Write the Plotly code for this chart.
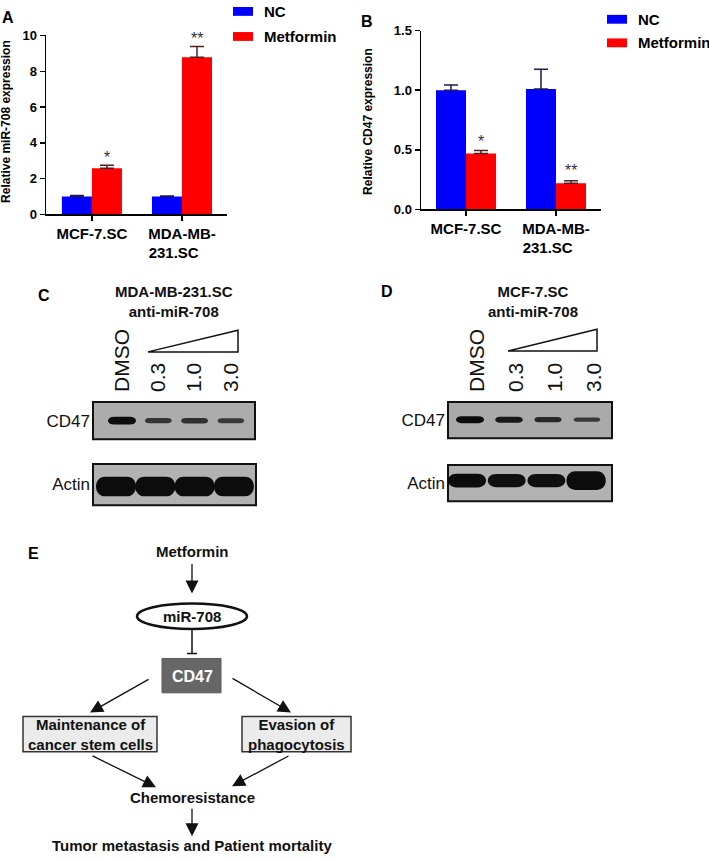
import plotly.graph_objects as go

W, H = 709, 861
FONT = "Liberation Sans, Arial, Helvetica, sans-serif"


def px(x):
    return x / W


def py(y):
    return 1 - y / H


# ---------------- data ----------------
groups = ["NC", "Metformin"]
cell_lines = ["MCF-7.SC", "MDA-MB-231.SC"]
cell_tick_text = ["MCF-7.SC", "MDA-MB-<br>231.SC&nbsp;&nbsp;&nbsp;&nbsp;"]

mir708_nc = [1.0, 1.0]
mir708_nc_err = [0.05, 0.03]
mir708_met = [2.58, 8.79]
mir708_met_err = [0.17, 0.6]
mir708_sig = ["*", "**"]

cd47_nc = [1.0, 1.01]
cd47_nc_err = [0.044, 0.165]
cd47_met = [0.47, 0.22]
cd47_met_err = [0.025, 0.02]
cd47_sig = ["*", "**"]

a_ticks = [0, 2, 4, 6, 8, 10]
b_ticks = [0.0, 0.5, 1.0, 1.5]

lanes = ["DMSO", "0.3", "1.0", "3.0"]
blot_c_cd47 = [1.0, 0.55, 0.6, 0.5]
blot_c_actin = [1.0, 1.0, 1.0, 1.0]
blot_d_cd47 = [1.0, 0.85, 0.7, 0.5]
blot_d_actin = [1.0, 0.95, 0.95, 1.35]

diagram_top = "Metformin"
diagram_mir = "miR-708"
diagram_target = "CD47"
diagram_left = "Maintenance of<br>cancer stem cells"
diagram_right = "Evasion of<br>phagocytosis"
diagram_mid = "Chemoresistance"
diagram_bottom = "Tumor metastasis and Patient mortality"

BLUE = "#0000ff"
RED = "#ff0000"

fig = go.Figure()
shapes = []
annos = []


# ---------------- bar panels ----------------
def bar_panel(xa, ya, nc, nce, met, mete, sig, star_shift):
    fig.add_trace(go.Bar(
        x=[0, 1], y=nc, name=groups[0], offsetgroup="nc",
        marker=dict(color=BLUE, line=dict(width=0)),
        error_y=dict(type="data", symmetric=False, array=nce, arrayminus=[0, 0],
                     color="#1a1a50", thickness=1.5, width=7),
        xaxis=xa, yaxis=ya, showlegend=False, hoverinfo="skip"))
    fig.add_trace(go.Bar(
        x=[0, 1], y=met, name=groups[1], offsetgroup="met",
        marker=dict(color=RED, line=dict(width=0)),
        error_y=dict(type="data", symmetric=False, array=mete, arrayminus=[0, 0],
                     color="#502020", thickness=1.5, width=7),
        xaxis=xa, yaxis=ya, showlegend=False, hoverinfo="skip"))
    for i in range(2):
        annos.append(dict(
            x=i + 1 / 6, y=met[i] + mete[i], xref=xa, yref=ya,
            text=sig[i], showarrow=False, yanchor="bottom", yshift=star_shift[i],
            font=dict(family=FONT, size=16, color="#333333")))


bar_panel("x", "y", mir708_nc, mir708_nc_err, mir708_met, mir708_met_err, mir708_sig, [-3, -3])
bar_panel("x2", "y2", cd47_nc, cd47_nc_err, cd47_met, cd47_met_err, cd47_sig, [-2, 0])

axis_common = dict(showline=True, linecolor="black", linewidth=1.5, ticks="outside",
                   ticklen=5, tickwidth=1.5, tickcolor="black", showgrid=False,
                   zeroline=False, fixedrange=True)

layout_axes = dict(
    xaxis=dict(domain=[px(46), px(227)], range=[-0.51, 1.5], anchor="y",
               tickvals=[0, 1], ticktext=cell_tick_text,
               tickfont=dict(family=FONT, size=15, color="black", weight="bold"),
               **axis_common),
    yaxis=dict(domain=[py(211), py(29)], range=[0, 10], anchor="x",
               tickvals=a_ticks,
               tickfont=dict(family=FONT, size=13, color="black", weight="bold"),
               **axis_common),
    xaxis2=dict(domain=[px(421), px(601)], range=[-0.5, 1.5], anchor="y2",
                tickvals=[0, 1], ticktext=cell_tick_text,
                tickfont=dict(family=FONT, size=15, color="black", weight="bold"),
                **axis_common),
    yaxis2=dict(domain=[py(206), py(24)], range=[0, 1.5], anchor="x2",
                tickvals=b_ticks, tickformat=".1f",
                tickfont=dict(family=FONT, size=13, color="black", weight="bold"),
                **axis_common),
)

# y-axis titles
annos.append(dict(x=px(6), y=py(117), xref="paper", yref="paper", text="Relative miR-708 expression",
                  textangle=-90, showarrow=False, xanchor="center", yanchor="middle",
                  font=dict(family=FONT, size=12, color="black", weight="bold")))
annos.append(dict(x=px(368), y=py(117), xref="paper", yref="paper", text="Relative CD47 expression",
                  textangle=-90, showarrow=False, xanchor="center", yanchor="middle",
                  font=dict(family=FONT, size=12, color="black", weight="bold")))

# legends (manual)
for (lx, ly_nc, ly_met) in [(233, 4.5, 30), (607, 12.5, 36.5)]:
    for name, col, ly in [(groups[0], BLUE, ly_nc), (groups[1], RED, ly_met)]:
        shapes.append(dict(type="rect", xref="paper", yref="paper",
                           x0=px(lx), x1=px(lx + 20), y0=py(ly - 4.5), y1=py(ly + 4.5),
                           fillcolor=col, line=dict(width=0)))
        annos.append(dict(x=px(lx + 29), y=py(ly), xref="paper", yref="paper", text=name,
                          showarrow=False, xanchor="left", yanchor="middle",
                          font=dict(family=FONT, size=15, color="black", weight="bold")))

# panel letters
for letter, lx, ly in [("A", 8, 11), ("B", 367, 15), ("C", 44, 294), ("D", 387, 290), ("E", 33, 556)]:
    annos.append(dict(x=px(lx), y=py(ly), xref="paper", yref="paper", text=letter,
                      showarrow=False, xanchor="center", yanchor="middle",
                      font=dict(family=FONT, size=16, color="black", weight="bold")))


# ---------------- western blots ----------------
def band_path(xc, hw, yc, hh, r):
    x0, x1 = xc - hw, xc + hw
    y0, y1 = yc - hh, yc + hh
    return (f"M {x0 + r},{y0} L {x1 - r},{y0} C {x1 + r / 3},{y0} {x1 + r / 3},{y1} {x1 - r},{y1} "
            f"L {x0 + r},{y1} C {x0 - r / 3},{y1} {x0 - r / 3},{y0} {x0 + r},{y0} Z")


def blot(xn, yn, box, lane0, spacing, values, ycen_px, hw_px, h_base, h_scale, bg,
         label, show_lanes=False, lane_shift=0.0, dark_scale=90):
    left, top, right, bottom = box
    xr = [(left - lane0) / spacing, (right - lane0) / spacing]
    xid = xn.replace("axis", "")
    yid = yn.replace("axis", "")
    xa = dict(domain=[px(left), px(right)], range=xr, anchor=yid,
              showgrid=False, zeroline=False, showline=False, fixedrange=True)
    ya = dict(domain=[py(bottom), py(top)], range=[0, 1], anchor=xid, showgrid=False,
              zeroline=False, showline=False, fixedrange=True, tickvals=[0.5],
              ticktext=[label], ticks="", ticklabelstandoff=2,
              tickfont=dict(family=FONT, size=17, color="#111111"))
    if show_lanes:
        xa.update(side="top", tickvals=[i + lane_shift for i in range(len(lanes))],
                  ticktext=lanes, tickangle=-90, ticks="", ticklabelstandoff=9,
                  tickfont=dict(family=FONT, size=21, color="#111111"))
    else:
        xa.update(showticklabels=False, ticks="")
    layout_axes[xn] = xa
    layout_axes[yn] = ya
    # background box
    shapes.append(dict(type="rect", xref=f"{xid} domain", yref=f"{yid} domain",
                       x0=0, x1=1, y0=0, y1=1, fillcolor=bg,
                       line=dict(color="#111111", width=2), layer="below"))
    box_h = bottom - top
    yc = (bottom - ycen_px) / box_h
    for i, v in enumerate(values):
        h_px = h_base + h_scale * v
        hh = h_px / 2 / box_h
        hw = hw_px * (0.9 + 0.1 * min(v, 1.4)) / spacing
        r = min(hw * 0.45, (h_px / 2) / spacing * 1.6)
        lvl = int(max(8, min(120, 12 + (1 - min(v, 1)) * dark_scale)))
        col = f"rgb({lvl},{lvl},{lvl})"
        shapes.append(dict(type="path", xref=xid, yref=yid,
                           path=band_path(i, hw, yc, hh, r),
                           fillcolor=col, line=dict(width=0)))


blot("xaxis3", "yaxis3", (93, 402, 255, 440), 122, 36.3, blot_c_cd47, 421, 14, 2, 6,
     "#acacac", "CD47", show_lanes=True)
blot("xaxis4", "yaxis4", (93, 465, 256, 507), 116, 39.3, blot_c_actin, 488, 20, 0, 20,
     "#b2b2b2", "Actin")
blot("xaxis5", "yaxis5", (448, 402, 612, 439), 470, 39.0, blot_d_cd47, 420, 14, 1.5, 5.5,
     "#aaaaaa", "CD47", show_lanes=True, lane_shift=0.18)
blot("xaxis6", "yaxis6", (448, 466, 612, 503), 467, 39.7, blot_d_actin, 482, 19, 0, 14,
     "#b2b2b2", "Actin")

# blot headings and dose triangles
for cx, l1 in [(174, "MDA-MB-231.SC"), (533, "MCF-7.SC")]:
    annos.append(dict(x=px(cx), y=py(300), xref="paper", yref="paper",
                      text=f"{l1}<br>anti-miR-708", showarrow=False,
                      xanchor="center", yanchor="middle",
                      font=dict(family=FONT, size=15, color="#111111", weight="bold")))
for (x0, x1, ytop, ybot) in [(148, 238, 329, 351), (508, 597, 328, 350)]:
    shapes.append(dict(type="path", xref="paper", yref="paper",
                       path=f"M {px(x0)},{py(ybot)} L {px(x1)},{py(ytop)} L {px(x1)},{py(ybot)} Z",
                       line=dict(color="#111111", width=1.5), fillcolor="rgba(0,0,0,0)"))


# ---------------- diagram (panel E) ----------------
def txt(x, y, t, size=15, color="#111111"):
    annos.append(dict(x=px(x), y=py(y), xref="paper", yref="paper", text=t, showarrow=False,
                      xanchor="center", yanchor="middle",
                      font=dict(family=FONT, size=size, color=color, weight="bold")))


def arrow(x0, y0, x1, y1):
    annos.append(dict(x=px(x1), y=py(y1), xref="paper", yref="paper", text="",
                      ax=x0 - x1, ay=y0 - y1, showarrow=True, arrowhead=2,
                      arrowsize=2.0, arrowwidth=1.3, arrowcolor="#111111"))


txt(192, 554, diagram_top)
arrow(192, 566, 192, 597)
shapes.append(dict(type="circle", xref="paper", yref="paper",
                   x0=px(137), x1=px(247), y0=py(633), y1=py(607),
                   line=dict(color="#111111", width=2.5), fillcolor="white"))
txt(192, 620, diagram_mir)
shapes.append(dict(type="line", xref="paper", yref="paper", x0=px(192), x1=px(192),
                   y0=py(633), y1=py(658), line=dict(color="#111111", width=1.5)))
shapes.append(dict(type="line", xref="paper", yref="paper", x0=px(187), x1=px(197),
                   y0=py(658), y1=py(658), line=dict(color="#111111", width=1.5)))
shapes.append(dict(type="rect", xref="paper", yref="paper", x0=px(162), x1=px(221),
                   y0=py(698), y1=py(663), fillcolor="#666666", line=dict(color="#5a5a5a", width=1)))
txt(192, 681, diagram_target, size=16, color="white")
arrow(150, 684, 90, 718)
arrow(231, 683, 291, 718)
shapes.append(dict(type="rect", xref="paper", yref="paper", x0=px(23), x1=px(157),
                   y0=py(758), y1=py(722), fillcolor="#ebebeb", line=dict(color="#333333", width=1.5)))
shapes.append(dict(type="rect", xref="paper", yref="paper", x0=px(242), x1=px(351),
                   y0=py(758), y1=py(722), fillcolor="#ebebeb", line=dict(color="#333333", width=1.5)))
txt(90, 740, diagram_left)
txt(296, 740, diagram_right)
arrow(91, 762, 156, 794)
arrow(290, 762, 232, 793)
txt(192, 805, diagram_mid)
arrow(192, 815, 192, 844)
txt(192, 853, diagram_bottom)

fig.update_layout(
    width=W, height=H, autosize=False,
    margin=dict(l=0, r=0, t=0, b=0),
    paper_bgcolor="white", plot_bgcolor="rgba(0,0,0,0)",
    barmode="group", bargap=0.333, bargroupgap=0,
    showlegend=False, hovermode=False,
    font=dict(family=FONT, color="black"),
    shapes=shapes, annotations=annos,
    **layout_axes,
)

fig.write_html("out.html", config={"displayModeBar": False, "staticPlot": True},
               post_script="document.body.style.margin='0px';document.body.style.padding='0px';")
